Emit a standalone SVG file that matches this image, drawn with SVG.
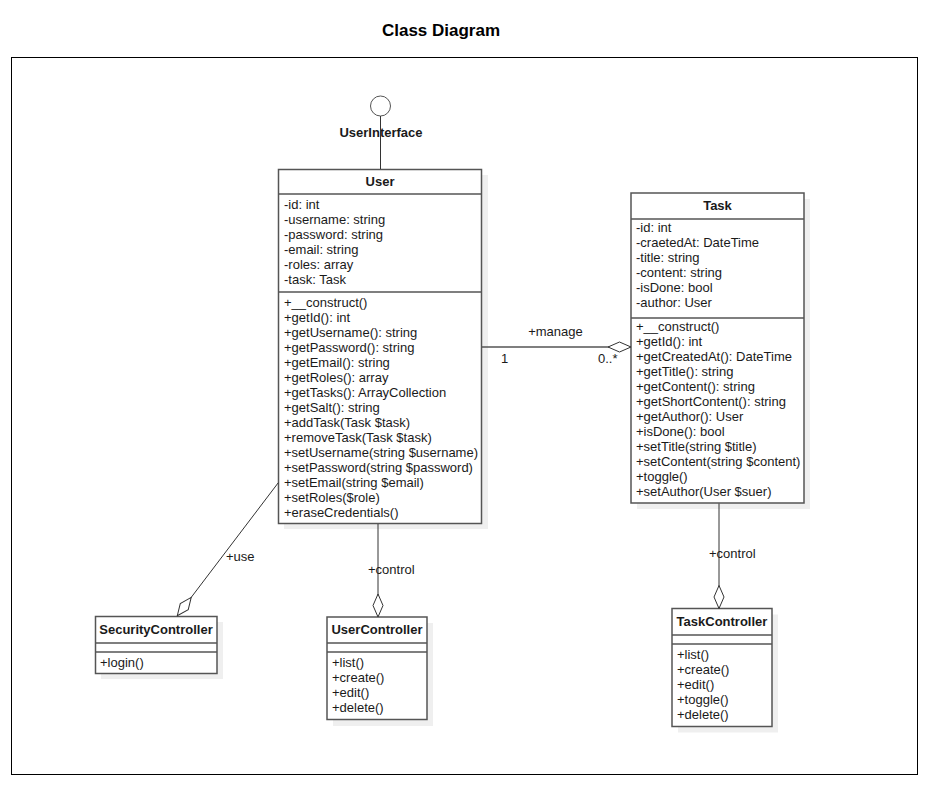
<svg xmlns="http://www.w3.org/2000/svg" width="936" height="796" viewBox="0 0 936 796">
<style>
.t{font-family:"Liberation Sans",Arial,sans-serif;font-size:13px;fill:#1a1a1a}
.h{font-family:"Liberation Sans",Arial,sans-serif;font-size:13px;font-weight:bold;fill:#1a1a1a;text-anchor:middle}
.box{fill:#fff;stroke:#555;stroke-width:1.5}
.sh{fill:#efefef;stroke:none}
.dv{stroke:#555;stroke-width:1.5}
.ln{stroke:#333;stroke-width:1;fill:none}
</style>
<defs>
<marker id="agg" markerUnits="userSpaceOnUse" markerWidth="26" markerHeight="14" viewBox="-2 -7 26 14" refX="23" refY="0" orient="auto">
<path d="M0,0 L11.5,-5 L23,0 L11.5,5 Z" fill="#fff" stroke="#333" stroke-width="1"/>
</marker>
</defs>
<rect width="936" height="796" fill="#fff"/>
<text x="441" y="36" text-anchor="middle" style="font-family:'Liberation Sans',Arial,sans-serif;font-size:17px;font-weight:bold;fill:#000">Class Diagram</text>
<rect x="11.5" y="57.5" width="906" height="717" fill="none" stroke="#000" stroke-width="1"/>

<g id="UserInterface">
<circle cx="380.5" cy="106" r="10" fill="#fff" stroke="#555" stroke-width="1"/>
<text class="h" x="381" y="137">UserInterface</text>
</g>

<g id="User">
<rect class="sh" x="284" y="175" width="204" height="354"/>
<rect class="box" x="278.5" y="169.5" width="203" height="354"/>
<line class="dv" x1="278.5" y1="194" x2="481.5" y2="194"/>
<line class="dv" x1="278.5" y1="292" x2="481.5" y2="292"/>
<text class="h" x="380" y="186">User</text>
<text class="t" x="284" y="209">-id: int</text>
<text class="t" x="284" y="224">-username: string</text>
<text class="t" x="284" y="239">-password: string</text>
<text class="t" x="284" y="254">-email: string</text>
<text class="t" x="284" y="269">-roles: array</text>
<text class="t" x="284" y="284">-task: Task</text>
<text class="t" x="284" y="307">+__construct()</text>
<text class="t" x="284" y="322">+getId(): int</text>
<text class="t" x="284" y="337">+getUsername(): string</text>
<text class="t" x="284" y="352">+getPassword(): string</text>
<text class="t" x="284" y="367">+getEmail(): string</text>
<text class="t" x="284" y="382">+getRoles(): array</text>
<text class="t" x="284" y="397">+getTasks(): ArrayCollection</text>
<text class="t" x="284" y="412">+getSalt(): string</text>
<text class="t" x="284" y="427">+addTask(Task $task)</text>
<text class="t" x="284" y="442">+removeTask(Task $task)</text>
<text class="t" x="284" y="457">+setUsername(string $username)</text>
<text class="t" x="284" y="472">+setPassword(string $password)</text>
<text class="t" x="284" y="487">+setEmail(string $email)</text>
<text class="t" x="284" y="502">+setRoles($role)</text>
<text class="t" x="284" y="517">+eraseCredentials()</text>
</g>

<g id="Task">
<rect class="sh" x="637" y="199" width="173" height="310"/>
<rect class="box" x="631" y="193" width="173" height="310"/>
<line class="dv" x1="631" y1="219" x2="804" y2="219"/>
<line class="dv" x1="631" y1="318" x2="804" y2="318"/>
<text class="h" x="717.5" y="210">Task</text>
<text class="t" x="636" y="232">-id: int</text>
<text class="t" x="636" y="247">-craetedAt: DateTime</text>
<text class="t" x="636" y="262">-title: string</text>
<text class="t" x="636" y="277">-content: string</text>
<text class="t" x="636" y="292">-isDone: bool</text>
<text class="t" x="636" y="307">-author: User</text>
<text class="t" x="636" y="330.5">+__construct()</text>
<text class="t" x="636" y="345.5">+getId(): int</text>
<text class="t" x="636" y="360.5">+getCreatedAt(): DateTime</text>
<text class="t" x="636" y="375.5">+getTitle(): string</text>
<text class="t" x="636" y="390.5">+getContent(): string</text>
<text class="t" x="636" y="405.5">+getShortContent(): string</text>
<text class="t" x="636" y="420.5">+getAuthor(): User</text>
<text class="t" x="636" y="435.5">+isDone(): bool</text>
<text class="t" x="636" y="450.5">+setTitle(string $title)</text>
<text class="t" x="636" y="465.5">+setContent(string $content)</text>
<text class="t" x="636" y="480.5">+toggle()</text>
<text class="t" x="636" y="495.5">+setAuthor(User $suer)</text>
</g>

<g id="SecurityController">
<rect class="sh" x="101" y="622" width="122" height="57"/>
<rect class="box" x="95.5" y="616.5" width="121.5" height="57"/>
<line class="dv" x1="95.5" y1="643" x2="217" y2="643"/>
<line class="dv" x1="95.5" y1="652" x2="217" y2="652"/>
<text class="h" x="156" y="634">SecurityController</text>
<text class="t" x="100" y="666.5">+login()</text>
</g>

<g id="UserController">
<rect class="sh" x="333" y="623" width="100" height="103"/>
<rect class="box" x="327" y="617" width="100" height="102.5"/>
<line class="dv" x1="327" y1="643" x2="427" y2="643"/>
<line class="dv" x1="327" y1="652" x2="427" y2="652"/>
<text class="h" x="377" y="634">UserController</text>
<text class="t" x="332" y="666.5">+list()</text>
<text class="t" x="332" y="681.5">+create()</text>
<text class="t" x="332" y="696.5">+edit()</text>
<text class="t" x="332" y="711.5">+delete()</text>
</g>

<g id="TaskController">
<rect class="sh" x="678" y="614.5" width="100" height="118"/>
<rect class="box" x="672" y="608.5" width="100" height="118"/>
<line class="dv" x1="672" y1="635" x2="772" y2="635"/>
<line class="dv" x1="672" y1="644" x2="772" y2="644"/>
<text class="h" x="722" y="626">TaskController</text>
<text class="t" x="677" y="658.5">+list()</text>
<text class="t" x="677" y="673.5">+create()</text>
<text class="t" x="677" y="688.5">+edit()</text>
<text class="t" x="677" y="703.5">+toggle()</text>
<text class="t" x="677" y="718.5">+delete()</text>
</g>

<g id="connectors">
<line class="ln" x1="380.5" y1="116" x2="380.5" y2="169"/>
<line x1="482" y1="347" x2="631" y2="347" stroke="#555" stroke-width="1.5" marker-end="url(#agg)"/>
<line class="ln" x1="278.3" y1="482.7" x2="177.3" y2="615.7" marker-end="url(#agg)"/>
<line class="ln" x1="378" y1="524" x2="378" y2="617" marker-end="url(#agg)"/>
<line class="ln" x1="719" y1="503.5" x2="719" y2="608.5" marker-end="url(#agg)"/>
<text class="t" x="555.5" y="335.5" text-anchor="middle">+manage</text>
<text class="t" x="501" y="363">1</text>
<text class="t" x="598" y="363">0..*</text>
<text class="t" x="226" y="561">+use</text>
<text class="t" x="368" y="574">+control</text>
<text class="t" x="709" y="558">+control</text>
</g>
</svg>
